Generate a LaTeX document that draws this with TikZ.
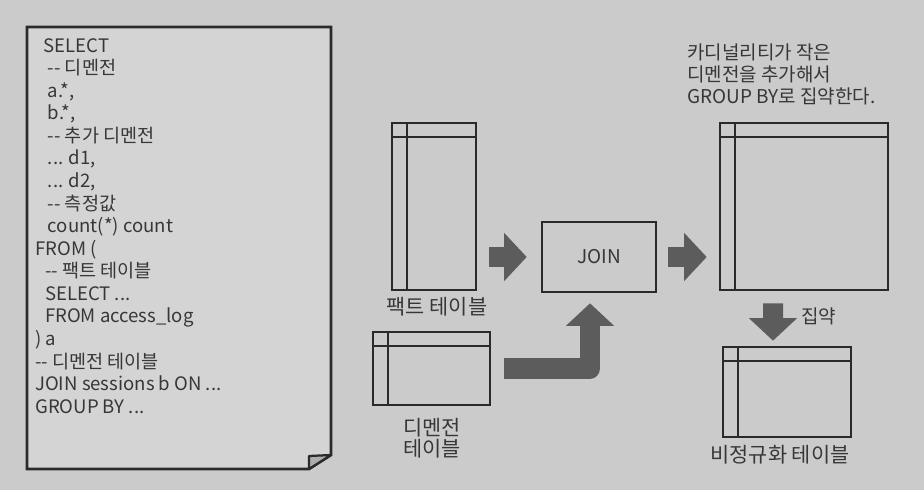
\documentclass[tikz,border=0pt]{standalone}
\usepackage{fontspec}
\setmainfont{Noto Sans CJK KR}
\usepackage{tikz}
\usetikzlibrary{arrows.meta}
\definecolor{photobg}{RGB}{203,203,203}
\definecolor{paper}{RGB}{212,212,212}
\definecolor{inkline}{RGB}{42,42,42}
\definecolor{inktext}{RGB}{55,55,55}
\definecolor{arrowgray}{RGB}{92,92,92}
\newcommand{\sqlcomment}{-\kern0pt-}
\newcommand{\labelfont}{\fontsize{14.8}{14.6}\selectfont\lineskiplimit-6pt\relax}
\tikzset{
  tablebox/.style={rectangle,draw=inkline,line width=1.9pt,inner sep=0pt,
    path picture={
      \draw[inkline,line width=1.4pt]
        ([yshift=-.36cm]path picture bounding box.north west) --
        ([yshift=-.36cm]path picture bounding box.north east);
      \draw[inkline,line width=1.4pt]
        ([xshift=.37cm]path picture bounding box.north west) --
        ([xshift=.37cm]path picture bounding box.south west);
    }},
  joinbox/.style={rectangle,draw=inkline,line width=1.9pt,inner sep=0pt,
    minimum width=2.85cm,minimum height=1.75cm,text=inktext,
    font=\fontsize{13.5}{16}\selectfont},
  blockarrow/.style={draw=arrowgray,line width=.5cm,line join=round,
    -{Triangle[width=1.2cm,length=.56cm,line width=0pt]}},
  tablelabel/.style={text=inktext,inner sep=0pt,align=center,
    font=\labelfont},
  notetext/.style={text=inktext,inner sep=0pt,align=left,
    font=\fontsize{13.5}{15.6}\selectfont},
  querytext/.style={text=inktext,inner sep=0pt,align=left,
    font=\fontsize{13.2}{16.05}\selectfont}
}

\begin{document}
\begin{tikzpicture}[x=0.025cm,y=-0.025cm]
  \useasboundingbox[fill=photobg] (0,0) rectangle (924,490);

  % query sheet
  \draw[inkline,line width=1.9pt,fill=paper]
    (27,27) -- (331,27) -- (331,455) -- (309,469) -- (27,469) -- cycle;
  \draw[inkline,line width=1.6pt,fill=photobg!85!black,line join=round]
    (309,469) -- (309,456) -- (331,455) -- cycle;
  \node[querytext,anchor=north west] (query) at (35,38)
    {\hspace*{6pt}SELECT\\
     \hspace*{9pt}\sqlcomment{} 디멘전\\
     \hspace*{9pt}a.*,\\
     \hspace*{9pt}b.*,\\
     \hspace*{9pt}\sqlcomment{} 추가 디멘전\\
     \hspace*{9pt}... d1,\\
     \hspace*{9pt}... d2,\\
     \hspace*{9pt}\sqlcomment{} 측정값\\
     \hspace*{9pt}count(*) count\\
     FROM (\\
     \hspace*{7pt}\sqlcomment{} 팩트 테이블\\
     \hspace*{7pt}SELECT ...\\
     \hspace*{7pt}FROM access\_log\\
     ) a\\
     \sqlcomment{} 디멘전 테이블\\
     JOIN sessions b ON ...\\
     GROUP BY ...};

  % tables
  \node[tablebox,minimum width=2.1cm,minimum height=4.175cm]
    (fact) at (434,206.5) {};
  \node[tablelabel] (factlbl) at (437,307) {팩트 테이블};
  \node[tablebox,minimum width=2.925cm,minimum height=1.825cm]
    (dim) at (431.5,368.5) {};
  \node[tablelabel] (dimlbl) at (432,438) {디멘전\\테이블};
  \node[joinbox] (join) at (599,257) {JOIN};
  \node[tablebox,minimum width=4.2cm,minimum height=4.175cm]
    (big) at (804,206.5) {};
  \node[notetext,anchor=north west] (note) at (687,44)
    {카디널리티가 작은\\디멘전을 추가해서\\GROUP BY로 집약한다.};
  \node[tablebox,minimum width=3.2cm,minimum height=2.25cm]
    (small) at (787,392) {};
  \node[tablelabel] (smalllbl) at (780,455) {비정규화 테이블};

  % arrows
  \coordinate (turn) at (590,368.5);
  \draw[blockarrow,shorten <=.3cm,shorten >=.35cm]
    (fact.east |- join.west) -- (join.west);
  \draw[blockarrow,shorten <=.325cm,shorten >=.25cm]
    (dim.east) -- (turn) -- (turn |- join.south);
  \draw[blockarrow,shorten <=.275cm,shorten >=.3cm]
    (join.east) -- (big.west |- join.east);
  \draw[blockarrow,shorten <=.3cm,shorten >=.125cm]
    ([xshift=-.775cm]big.south) -- ([xshift=-.35cm]small.north);
  \node[notetext,anchor=west] (agglbl) at (801,316) {집약};
\end{tikzpicture}
\end{document}
